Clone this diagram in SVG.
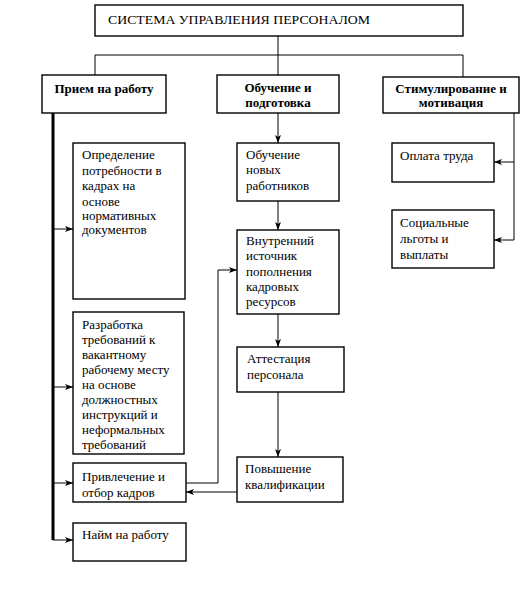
<svg xmlns="http://www.w3.org/2000/svg" width="531" height="592" viewBox="0 0 531 592" font-family="Liberation Serif, Tinos, Times New Roman, DejaVu Serif, serif">
<style>
.box{fill:#fff;stroke:#000;stroke-width:1.4}
.t{font-size:13px;fill:#000}
.b{font-weight:bold;text-anchor:middle}
.c{fill:none;stroke:#000;stroke-width:1}
</style>
<defs>
<marker id="ar" viewBox="0 0 8 6" refX="8" refY="3" markerWidth="8" markerHeight="6" markerUnits="userSpaceOnUse" orient="auto">
<path d="M0,0 L8,3 L0,6 L2,3 Z" fill="#000"/>
</marker>
</defs>
<rect width="531" height="592" fill="#fff"/>
<g id="connectors">
<path class="c" d="M278,36 V75"/>
<path class="c" d="M95,75 V55 H463 V77"/>
<path d="M53,113 V540" fill="none" stroke="#000" stroke-width="3"/>
<path class="c" d="M53,229 H73" marker-end="url(#ar)"/>
<path class="c" d="M53,387 H73" marker-end="url(#ar)"/>
<path class="c" d="M53,483 H73" marker-end="url(#ar)"/>
<path class="c" d="M53,540 H73" marker-end="url(#ar)"/>
<path class="c" d="M278,113 V143" marker-end="url(#ar)"/>
<path class="c" d="M278,201 V230" marker-end="url(#ar)"/>
<path class="c" d="M278,314 V347" marker-end="url(#ar)"/>
<path class="c" d="M278,392 V457" marker-end="url(#ar)"/>
<path class="c" d="M186,483 H218 V270 H237" marker-end="url(#ar)"/>
<path class="c" d="M237,492 H186" marker-end="url(#ar)"/>
<path class="c" d="M514,113 V240"/>
<path class="c" d="M514,162 H494" marker-end="url(#ar)"/>
<path class="c" d="M514,240 H494" marker-end="url(#ar)"/>
</g>
<g id="top">
<rect class="box" x="95" y="5" width="368" height="31"/>
<text class="t" x="108" y="24" textLength="262" lengthAdjust="spacingAndGlyphs">СИСТЕМА УПРАВЛЕНИЯ ПЕРСОНАЛОМ</text>
</g>
<g id="priem">
<rect class="box" x="42" y="75" width="124" height="38"/>
<text class="t b" x="104" y="93">Прием на работу</text>
</g>
<g id="obuchenie">
<rect class="box" x="217" y="75" width="122" height="38"/>
<text class="t b" x="278" y="92">Обучение и</text>
<text class="t b" x="278" y="107">подготовка</text>
</g>
<g id="stimul">
<rect class="box" x="383" y="77" width="136" height="36"/>
<text class="t b" x="451" y="93">Стимулирование и</text>
<text class="t b" x="451" y="107">мотивация</text>
</g>
<g id="opredelenie">
<rect class="box" x="73" y="143" width="112" height="156"/>
<text class="t" x="82" y="159">Определение</text>
<text class="t" x="82" y="175">потребности в</text>
<text class="t" x="82" y="190">кадрах на</text>
<text class="t" x="82" y="206">основе</text>
<text class="t" x="82" y="220">нормативных</text>
<text class="t" x="82" y="234">документов</text>
</g>
<g id="razrabotka">
<rect class="box" x="73" y="312" width="111" height="142"/>
<text class="t" x="82" y="329">Разработка</text>
<text class="t" x="82" y="344">требований к</text>
<text class="t" x="82" y="359">вакантному</text>
<text class="t" x="82" y="374">рабочему месту</text>
<text class="t" x="82" y="389">на основе</text>
<text class="t" x="82" y="404">должностных</text>
<text class="t" x="82" y="419">инструкций и</text>
<text class="t" x="82" y="434">неформальных</text>
<text class="t" x="82" y="449">требований</text>
</g>
<g id="privlechenie">
<rect class="box" x="73" y="463" width="113" height="39"/>
<text class="t" x="82" y="481">Привлечение и</text>
<text class="t" x="82" y="497">отбор кадров</text>
</g>
<g id="naim">
<rect class="box" x="73" y="523" width="113" height="38"/>
<text class="t" x="82" y="539">Найм на работу</text>
</g>
<g id="novyh">
<rect class="box" x="237" y="143" width="102" height="58"/>
<text class="t" x="246" y="159">Обучение</text>
<text class="t" x="246" y="174">новых</text>
<text class="t" x="246" y="190">работников</text>
</g>
<g id="vnutr">
<rect class="box" x="237" y="230" width="102" height="84"/>
<text class="t" x="246" y="245">Внутренний</text>
<text class="t" x="246" y="260">источник</text>
<text class="t" x="246" y="276">пополнения</text>
<text class="t" x="246" y="291">кадровых</text>
<text class="t" x="246" y="306">ресурсов</text>
</g>
<g id="attest">
<rect class="box" x="237" y="347" width="107" height="45"/>
<text class="t" x="247" y="363">Аттестация</text>
<text class="t" x="247" y="379">персонала</text>
</g>
<g id="povysh">
<rect class="box" x="237" y="457" width="106" height="45"/>
<text class="t" x="245" y="473">Повышение</text>
<text class="t" x="245" y="489">квалификации</text>
</g>
<g id="oplata">
<rect class="box" x="392" y="143" width="102" height="39"/>
<text class="t" x="400" y="160">Оплата труда</text>
</g>
<g id="social">
<rect class="box" x="392" y="210" width="102" height="58"/>
<text class="t" x="400" y="227">Социальные</text>
<text class="t" x="400" y="243">льготы и</text>
<text class="t" x="400" y="259">выплаты</text>
</g>
</svg>
